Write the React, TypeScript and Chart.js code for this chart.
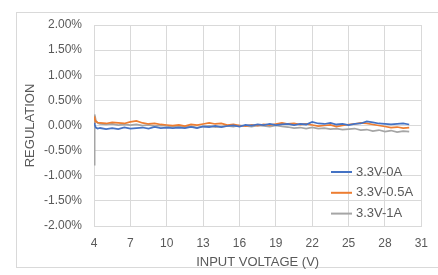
import React, { useEffect, useRef } from "react";
import { Chart, registerables } from "chart.js";

Chart.register(...registerables);

const voltages = [4, 4.05, 4.15, 4.3, 4.5, 5, 5.5, 6, 6.5, 7, 7.5, 8, 8.5, 9, 9.5, 10, 10.5, 11, 11.5, 12, 12.5, 13, 13.5, 14, 14.5, 15, 15.5, 16, 16.5, 17, 17.5, 18, 18.5, 19, 19.5, 20, 20.5, 21, 21.5, 22, 22.5, 23, 23.5, 24, 24.5, 25, 25.5, 26, 26.5, 27, 27.5, 28, 28.5, 29, 29.5, 30];

const reg0A = [0.05, 0.02, -0.04, -0.06, -0.05, -0.07, -0.05, -0.07, -0.04, -0.06, -0.05, -0.04, -0.06, -0.03, -0.05, -0.04, -0.05, -0.04, -0.05, -0.03, -0.05, -0.02, -0.03, -0.01, -0.03, -0.01, 0.0, -0.02, 0.01, 0.0, 0.02, 0.01, 0.03, 0.01, 0.02, 0.03, 0.01, 0.03, 0.02, 0.07, 0.04, 0.03, 0.05, 0.02, 0.03, 0.01, 0.03, 0.04, 0.08, 0.06, 0.04, 0.03, 0.02, 0.03, 0.04, 0.02];

const reg05A = [0.18, 0.14, 0.08, 0.06, 0.05, 0.04, 0.06, 0.05, 0.04, 0.07, 0.09, 0.05, 0.03, 0.04, 0.02, 0.01, 0.0, 0.01, -0.01, 0.02, 0.01, 0.03, 0.05, 0.03, 0.04, 0.01, 0.02, 0.0, -0.01, 0.01, 0.0, 0.02, 0.01, 0.03, 0.05, 0.03, 0.04, 0.02, 0.03, 0.01, -0.01, 0.0, 0.01, -0.02, 0.0, 0.02, 0.03, 0.05, 0.04, 0.02, 0.0, -0.02, -0.04, -0.03, -0.05, -0.04];

const reg1A = [-0.78, 0.22, 0.1, 0.05, 0.03, 0.02, 0.03, 0.01, 0.02, 0.01, 0.02, 0.0, 0.01, -0.01, 0.0, -0.01, -0.02, -0.01, -0.03, -0.02, -0.04, -0.02, -0.01, -0.03, -0.02, -0.01, -0.02, 0.0, -0.01, -0.02, 0.0, -0.01, -0.02, 0.0, -0.02, -0.03, -0.05, -0.04, -0.06, -0.04, -0.06, -0.05, -0.07, -0.06, -0.08, -0.07, -0.06, -0.09, -0.08, -0.11, -0.09, -0.12, -0.1, -0.13, -0.11, -0.12];

const seriesNames = ["3.3V-0A", "3.3V-0.5A", "3.3V-1A"];
const seriesColors = ["#4472C4", "#ED7D31", "#A5A5A5"];
const seriesValues = [reg0A, reg05A, reg1A];

const FONT = "'Liberation Sans', Arial, sans-serif";
const TEXT = "#595959";
const GRID = "#D9D9D9";

const legendPlugin = {
  id: "insideLegend",
  afterDraw(chart: any) {
    const ctx = chart.ctx;
    const lx = 331;
    const y0 = 172;
    const dy = 20.8;
    ctx.save();
    ctx.font = "13px " + FONT;
    ctx.textBaseline = "middle";
    ctx.textAlign = "left";
    chart.data.datasets.forEach((ds: any, i: number) => {
      const y = y0 + i * dy;
      ctx.strokeStyle = ds.borderColor;
      ctx.lineWidth = 2;
      ctx.beginPath();
      ctx.moveTo(lx, y);
      ctx.lineTo(lx + 21, y);
      ctx.stroke();
      ctx.fillStyle = TEXT;
      ctx.fillText(ds.label, lx + 25, y);
    });
    ctx.restore();
  },
};

export default function App() {
  const ref = useRef<HTMLCanvasElement | null>(null);

  useEffect(() => {
    if (!ref.current) return;
    const chart = new Chart(ref.current, {
      type: "line",
      data: {
        datasets: seriesNames.map((name, i) => ({
          label: name,
          data: voltages.map((v, j) => ({ x: v, y: seriesValues[i][j] })),
          borderColor: seriesColors[i],
          backgroundColor: seriesColors[i],
          borderWidth: 1.75,
          pointRadius: 0,
          tension: 0,
          fill: false,
        })),
      },
      options: {
        animation: false,
        responsive: false,
        maintainAspectRatio: false,
        layout: { padding: { left: 0, right: 16, top: 25, bottom: 0 } },
        plugins: {
          legend: { display: false },
          tooltip: { enabled: false },
        },
        scales: {
          x: {
            type: "linear",
            min: 4,
            max: 31,
            afterFit: (s: any) => {
              s.height = 49;
            },
            ticks: {
              stepSize: 3,
              padding: 10,
              color: TEXT,
              font: { family: FONT, size: 12 },
              maxRotation: 0,
            },
            grid: { color: GRID, drawTicks: false, lineWidth: 1 },
            border: { color: GRID },
            title: {
              display: true,
              text: "INPUT VOLTAGE (V)",
              color: TEXT,
              font: { family: FONT, size: 13 },
              padding: { top: 0, bottom: 5 },
            },
          },
          y: {
            min: -2,
            max: 2,
            afterFit: (s: any) => {
              s.width = 94;
            },
            ticks: {
              stepSize: 0.5,
              padding: 12,
              color: TEXT,
              font: { family: FONT, size: 12 },
              callback: (v: any) => Number(v).toFixed(2) + "%",
            },
            grid: { color: GRID, drawTicks: false, lineWidth: 1 },
            border: { color: GRID },
            title: {
              display: true,
              text: "REGULATION",
              color: TEXT,
              font: { family: FONT, size: 13 },
              padding: { top: 23, bottom: 0 },
            },
          },
        },
      },
      plugins: [legendPlugin],
    } as any);
    return () => chart.destroy();
  }, []);

  return (
    <div style={{ position: "fixed", left: 0, top: 0, width: 438, height: 275, background: "#fff" }}>
      <div
        style={{
          position: "absolute",
          left: 16,
          top: 12,
          width: 422,
          height: 256,
          border: "1px solid #D9D9D9",
          borderRight: "none",
          boxSizing: "border-box",
        }}
      />
      <canvas ref={ref} width={438} height={275} style={{ position: "absolute", left: 0, top: 0 }} />
    </div>
  );
}
